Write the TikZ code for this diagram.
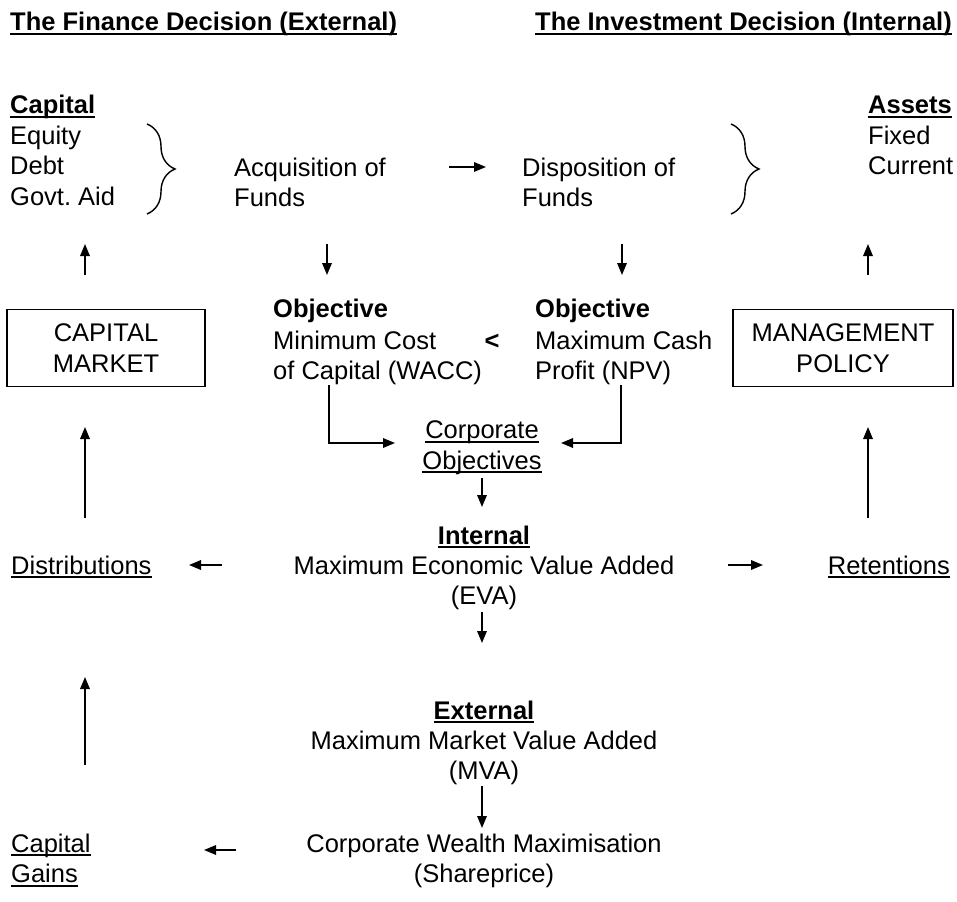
\documentclass[tikz,border=0pt]{standalone}
\usepackage{fontspec}
\setmainfont{Liberation Sans}
\frenchspacing
\usetikzlibrary{arrows.meta,decorations.pathreplacing}
\newcommand\ulin[2][1.8pt]{\setbox0=\hbox{#2}\rlap{\rule[-4pt]{\wd0}{#1}}\box0}
\newcommand\ulb[1]{\ulin[2.4pt]{\textbf{#1}}}
\begin{document}
\begin{tikzpicture}[x=1pt,y=-1pt,
  txt/.style={inner sep=0pt, font=\fontsize{25.5}{30.5}\selectfont},
  tip/.style={-{Triangle[length=12pt,width=9.5pt]}},
  arr/.style={line width=1.7pt, tip},
  ln/.style={line width=1.7pt},
  bracex/.style={line width=1.4pt, decorate, decoration={brace, amplitude=28pt, aspect=0.5}},
  boxx/.style={txt, draw, line width=1.5pt, align=center, minimum height=77pt}]
\useasboundingbox (0,0) rectangle (957,901);
% titles
\node[txt, anchor=base west] (tfin) at (10,31) {\ulb{The Finance Decision (External)}};
\node[txt, anchor=base east] (tinv) at (952,31) {\ulb{The Investment Decision (Internal)}};
% top row
\node[txt, anchor=base west] (cap) at (10,114) {\ulb{Capital}};
\node[txt, anchor=north west, align=left] (caplist) at (10,125.5) {Equity\\Debt\\Govt. Aid};
\node[txt, anchor=north west, align=left] (acq) at (234,157.5) {Acquisition of\\Funds};
\node[txt, anchor=north west, align=left] (disp) at (522,157.5) {Disposition of\\Funds};
\node[txt, anchor=base west] (assets) at (868,114) {\ulb{Assets}};
\node[txt, anchor=north west, align=left] (assetlist) at (868,125.5) {Fixed\\Current};
\coordinate (bL1) at (147,124);
\coordinate (bL2) at (147,214);
\coordinate (bR1) at (731,124);
\coordinate (bR2) at (731,214);
\draw[bracex] (bL1) -- (bL2);
\draw[bracex] (bR1) -- (bR2);
\coordinate (aA1) at (449,167);
\coordinate (aA2) at (486,167);
\draw[arr] (aA1) -- (aA2);
% vertical arrows row 2
\coordinate (u1a) at (85,275); \coordinate (u1b) at (85,244);
\coordinate (u2a) at (868,275); \coordinate (u2b) at (868,244);
\coordinate (d1a) at (327,244); \coordinate (d1b) at (327,275);
\coordinate (d2a) at (622,244); \coordinate (d2b) at (622,275);
\draw[arr] (u1a) -- (u1b);
\draw[arr] (u2a) -- (u2b);
\draw[arr] (d1a) -- (d1b);
\draw[arr] (d2a) -- (d2b);
% objectives
\node[txt, anchor=base west] (objL) at (273,317) {\textbf{Objective}};
\node[txt, anchor=base west] (objR) at (535,317) {\textbf{Objective}};
\node[boxx, minimum width=198pt] (capmkt) at (106,348) {CAPITAL\\MARKET};
\node[boxx, minimum width=220pt] (mgmt) at (843,348) {MANAGEMENT\\POLICY};
\node[txt, anchor=north west, align=left] (minc) at (273,330.5) {Minimum Cost\\of Capital (WACC)};
\node[txt, anchor=base] (lt) at (492,349) {\textbf{<}};
\node[txt, anchor=north west, align=left] (maxc) at (535,330.5) {Maximum Cash\\Profit (NPV)};
\node[txt, anchor=north, align=center] (corp) at (482,420.5) {\ulin{Corporate}\\\ulin{Objectives}};
\coordinate (cL1) at (329,385); \coordinate (cL2) at (395,443);
\coordinate (cR1) at (621,385); \coordinate (cR2) at (561,443);
\draw[ln, tip] (cL1) |- (cL2);
\draw[ln, tip] (cR1) |- (cR2);
\coordinate (d3a) at (482,478); \coordinate (d3b) at (482,507);
\draw[arr] (d3a) -- (d3b);
% long up arrows
\coordinate (u3a) at (85,518); \coordinate (u3b) at (85,427);
\coordinate (u4a) at (868,518); \coordinate (u4b) at (868,427);
\draw[arr] (u3a) -- (u3b);
\draw[arr] (u4a) -- (u4b);
% internal
\node[txt, anchor=base] (internal) at (484,544) {\ulb{Internal}};
\node[txt, anchor=north, align=center] (eva) at (484,555.5) {Maximum Economic Value Added\\(EVA)};
\node[txt, anchor=base west] (dist) at (11,574) {\ulin{Distributions}};
\node[txt, anchor=base east] (ret) at (950,574) {\ulin{Retentions}};
\coordinate (l1a) at (222,565); \coordinate (l1b) at (189,565);
\coordinate (r1a) at (728,565); \coordinate (r1b) at (763,565);
\draw[arr] (l1a) -- (l1b);
\draw[arr] (r1a) -- (r1b);
\coordinate (d4a) at (482,612); \coordinate (d4b) at (482,643);
\draw[arr] (d4a) -- (d4b);
% external
\coordinate (u5a) at (85,765); \coordinate (u5b) at (85,677);
\draw[arr] (u5a) -- (u5b);
\node[txt, anchor=base] (external) at (484,719) {\ulb{External}};
\node[txt, anchor=north, align=center] (mva) at (484,730.5) {Maximum Market Value Added\\(MVA)};
\coordinate (d5a) at (482,786); \coordinate (d5b) at (482,828);
\draw[arr] (d5a) -- (d5b);
% bottom
\node[txt, anchor=north west, align=left] (cgains) at (11,833.5) {\ulin{Capital}\\\ulin{Gains}};
\node[txt, anchor=north, align=center] (cwm) at (484,833.5) {Corporate Wealth Maximisation\\(Shareprice)};
\coordinate (l2a) at (236,850); \coordinate (l2b) at (204,850);
\draw[arr] (l2a) -- (l2b);
\end{tikzpicture}
\end{document}
